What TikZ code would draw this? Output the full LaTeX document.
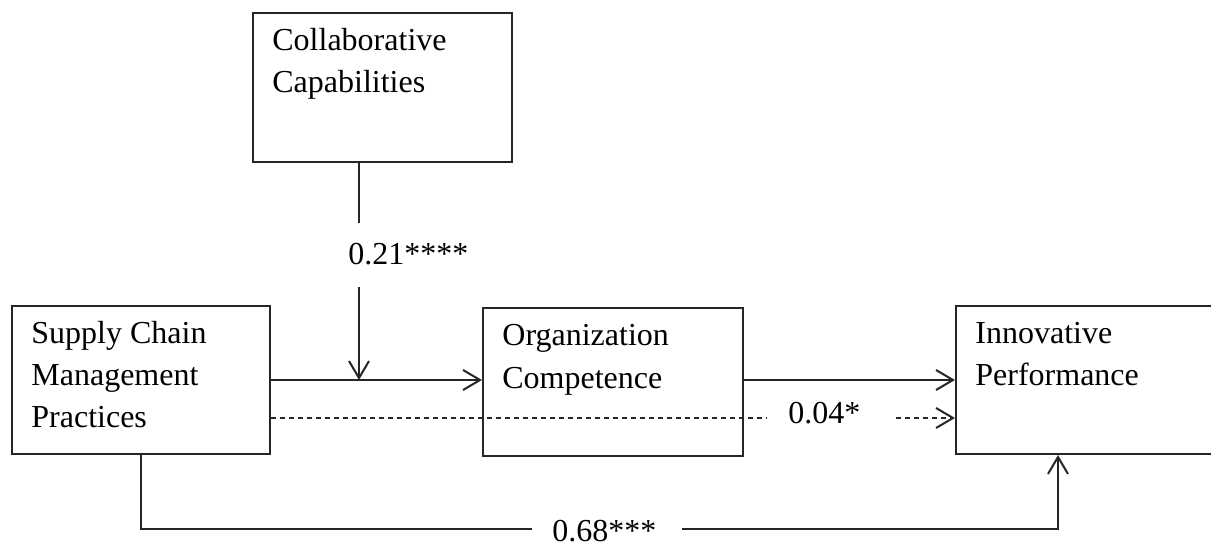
\documentclass[tikz,border=0pt]{standalone}
\usepackage{fontspec}
\setmainfont{Liberation Serif}
\usetikzlibrary{arrows.meta}
\begin{document}
\begin{tikzpicture}[x=0.5pt,y=-0.5pt,
  box/.style={draw=black!85, line width=1pt, rectangle, inner sep=0pt},
  lbl/.style={font=\fontsize{16}{21}\selectfont, inner sep=0pt, anchor=base west, align=left},
  con/.style={draw=black!85, line width=1pt},
  arr/.style={con, -{Straight Barb[length=8.5pt,width=10pt]}},
  dsh/.style={con, dash pattern=on 2.5pt off 2pt}]
\useasboundingbox (0,0) rectangle (1211,545);
\clip (0,0) rectangle (1211,545);
% boxes
\node[box, minimum width=129.5pt, minimum height=74.5pt] (collab) at (382.5,87.5) {};
\node[box, minimum width=129pt, minimum height=74pt] (scm) at (141,380) {};
\node[box, minimum width=130pt, minimum height=74pt] (org) at (613,382) {};
\node[box, minimum width=129.5pt, minimum height=74pt] (innov) at (1085.5,380) {};
% box texts (base anchor = baseline of last line)
\node[lbl] (tcollab) at ([shift={(20,81)}]collab.north west) {Collaborative\\Capabilities};
\node[lbl] (tscm) at ([shift={(20,123)}]scm.north west) {Supply Chain\\Management\\Practices};
\node[lbl] (torg) at ([shift={(20,81)}]org.north west) {Organization\\Competence};
\node[lbl] (tinnov) at ([shift={(20,81)}]innov.north west) {Innovative\\Performance};
% labels
\node[lbl] (l21) at (348,265) {0.21****};
\node[lbl] (l04) at (788,423) {0.04*};
\node[lbl] (l68) at (552,541) {0.68***};
% coordinates
\coordinate (c1) at (359,223);
\coordinate (c2) at (359,287);
\coordinate (d1) at (767,418);
\coordinate (d2) at (896,418);
\coordinate (b1) at (532,529);
\coordinate (b2) at (682,529);
\coordinate (b3) at (1058,529);
% connectors
\draw[con] (collab.south -| c1) -- (c1);
\draw[arr] (c2) -- (c2 |- scm.east);
\draw[arr] (scm.east) -- (scm.east -| org.west);
\draw[arr] (org.east |- scm.east) -- (innov.west |- scm.east);
\draw[dsh] (scm.east |- d1) -- (d1);
\draw[dsh, arr] (d2) -- (innov.west |- d2);
\draw[con] (scm.south) |- (b1);
\draw[arr] (b2) -- (b3) -- (b3 |- innov.south);
\end{tikzpicture}
\end{document}
